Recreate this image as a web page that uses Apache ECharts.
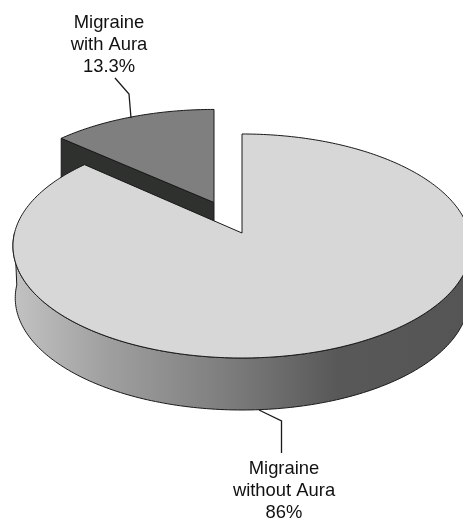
<!DOCTYPE html>
<html>
<head>
<meta charset="utf-8">
<style>
    html, body { margin: 0; padding: 0; background: #fff; }
    #main { width: 463px; height: 519px; }
</style>
<script src="https://cdn.jsdelivr.net/npm/echarts@6/dist/echarts.min.js"></script>
</head>
<body>
<div id="main"></div>
<script>
// data
var categories = ['Migraine\nwith Aura', 'Migraine\nwithout Aura'];
var values = [13.3, 86];
var valueLabels = ['13.3%', '86%'];

// layout of the tilted disc (px)
var cx = 242, cy = 233, radiusX = 227.5, radiusY = 110.5, persp = 0.116;
var depth = 52, bottomScale = 0.99;
var explodeX = -28, explodeV = 0.285;   // only the small slice is pulled out
var smallDepth = 46;

var topColors = ['#7f7f7f', '#d7d7d7'];
var cutColor = '#2f312f';
var edgeColor = '#1a1a1a';

var total = values[0] + values[1];
var smallAngle = values[0] / total * 360;

// angle in degrees, clockwise from 12 o'clock, on a perspective disc
function project(deg, r, offX, offV) {
    var a = deg * Math.PI / 180;
    var u = r * Math.sin(a), v = r * Math.cos(a) + offV;
    var d = 1 + persp * v;
    return [cx + offX + radiusX * u / d, cy - radiusY * v / d];
}

function arcPoints(from, to, offX, offV) {
    var pts = [], n = Math.ceil(Math.abs(to - from));
    for (var i = 0; i <= n; i++) {
        pts.push(project(from + (to - from) * i / n, 1, offX, offV));
    }
    return pts;
}

function poly(points, fill) {
    return {
        type: 'polygon',
        shape: { points: points },
        style: { fill: fill, stroke: edgeColor, lineWidth: 1, lineJoin: 'round' }
    };
}

function renderSlice(params) {
    var children = [];
    if (params.dataIndex === 0) {
        var apex = project(0, 0, explodeX, explodeV);
        var tip = project(-smallAngle, 1, explodeX, explodeV);
        children.push(poly([tip, apex, [apex[0], apex[1] + smallDepth], [tip[0], tip[1] + smallDepth]], cutColor));
        children.push(poly([apex].concat(arcPoints(-smallAngle, 0, explodeX, explodeV)), topColors[0]));
    } else {
        var rim = arcPoints(90, 270, 0, 0);
        var bottom = rim.map(function (p) {
            return [cx + (p[0] - cx) * bottomScale, p[1] + depth];
        }).reverse();
        children.push({
            type: 'polygon',
            shape: { points: rim.concat(bottom) },
            style: {
                fill: {
                    type: 'linear', x: 15, y: 0, x2: 463, y2: 0, global: true,
                    colorStops: [
                        { offset: 0, color: '#c2c2c2' },
                        { offset: 0.2, color: '#a0a0a0' },
                        { offset: 0.46, color: '#7f7f7f' },
                        { offset: 0.72, color: '#585858' },
                        { offset: 1, color: '#555555' }
                    ]
                },
                stroke: edgeColor, lineWidth: 1
            }
        });
        children.push(poly([project(0, 0, 0, 0)].concat(arcPoints(0, 360 - smallAngle, 0, 0)), topColors[1]));
    }
    return { type: 'group', children: children };
}

// label block + leader line for each category
var labelPos = [[109, 45], [284, 491]];
var leaders = [
    [[115, 78], [129, 94], [131, 118]],
    [[259, 410], [281.5, 421], [281.5, 453]]
];

function renderLabel(params) {
    var i = params.dataIndex;
    return {
        type: 'group',
        children: [
            {
                type: 'polyline',
                shape: { points: leaders[i] },
                style: { fill: null, stroke: edgeColor, lineWidth: 1.3 }
            },
            {
                type: 'text',
                x: labelPos[i][0],
                y: labelPos[i][1],
                style: {
                    text: categories[i] + '\n' + valueLabels[i],
                    fill: '#111',
                    font: '18.4px "Liberation Sans", Arial, sans-serif',
                    lineHeight: 22,
                    align: 'center',
                    verticalAlign: 'middle'
                }
            }
        ]
    };
}

var myChart = echarts.init(document.getElementById('main'), null, { renderer: 'canvas' });
myChart.setOption({
    animation: false,
    backgroundColor: '#fff',
    series: [
        {
            type: 'custom',
            coordinateSystem: 'none',
            silent: true,
            data: values,
            renderItem: renderSlice
        },
        {
            type: 'custom',
            coordinateSystem: 'none',
            silent: true,
            z: 3,
            data: values,
            renderItem: renderLabel
        }
    ]
});
</script>
</body>
</html>
